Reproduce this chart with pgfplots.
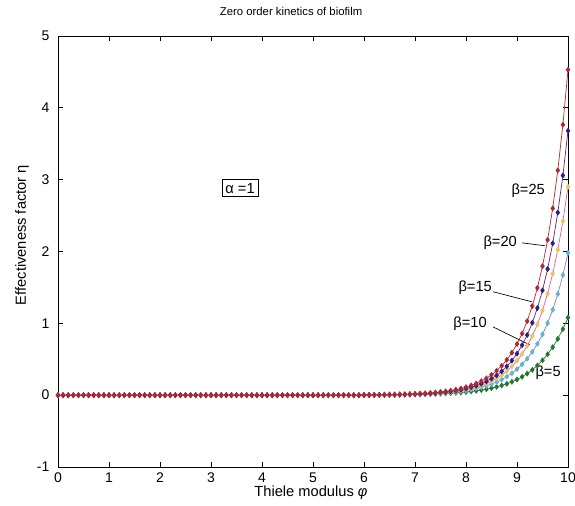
\documentclass[border=0pt]{standalone}
\usepackage{pgfplots}
\pgfplotsset{compat=1.18}
\usepackage{pgfplotstable}
\usepackage{fontspec}
\setmainfont{Liberation Sans}

\definecolor{cAline}{rgb}{0.72,0.18,0.18}
\definecolor{cAmark}{rgb}{0.70,0.15,0.20}
\definecolor{cBline}{rgb}{0.45,0.15,0.45}
\definecolor{cBmark}{rgb}{0.15,0.12,0.55}
\definecolor{cCline}{rgb}{0.85,0.40,0.65}
\definecolor{cCmark}{rgb}{0.95,0.75,0.35}
\definecolor{cDline}{rgb}{0.55,0.50,0.80}
\definecolor{cDmark}{rgb}{0.35,0.72,0.82}
\definecolor{cEline}{rgb}{0.10,0.50,0.20}
\definecolor{cEmark}{rgb}{0.15,0.45,0.20}

\pgfplotstableread{
x c1 c2 c3 c4 c5
0.0 0 0 0 0 0
0.1 0 0 0 0 0
0.2 0 0 0 0 0
0.3 0 0 0 0 0
0.4 0 0 0 0 0
0.5 0 0 0 0 0
0.6 0 0 0 0 0
0.7 0 0 0 0 0
0.8 0 0 0 0 0
0.9 0 0 0 0 0
1.0 0 0 0 0 0
1.1 0 0 0 0 0
1.2 0 0 0 0 0
1.3 0 0 0 0 0
1.4 0 0 0 0 0
1.5 0 0 0 0 0
1.6 0 0 0 0 0
1.7 0 0 0 0 0
1.8 0 0 0 0 0
1.9 0 0 0 0 0
2.0 0 0 0 0 0
2.1 0 0 0 0 0
2.2 0 0 0 0 0
2.3 0 0 0 0 0
2.4 0 0 0 0 0
2.5 0 0 0 0 0
2.6 0 0 0 0 0
2.7 0 0 0 0 0
2.8 0 0 0 0 0
2.9 0 0 0 0 0
3.0 0 0 0 0 0
3.1 0 0 0 0 0
3.2 0 0 0 0 0
3.3 0 0 0 0 0
3.4 0 0 0 0 0
3.5 0 0 0 0 0
3.6 0 0 0 0 0
3.7 0 0 0 0 0
3.8 0 0 0 0 0
3.9 0 0 0 0 0
4.0 0 0 0 0 0
4.1 0 0 0 0 0
4.2 0 0 0 0 0
4.3 0 0 0 0 0
4.4 0 0 0 0 0
4.5 0 0 0 0 0
4.6 0 0 0 0 0
4.7 0 0 0 0 0
4.8 0 0 0 0 0
4.9 0 0 0 0 0
5.0 0 0 0 0 0
5.1 0 0 0 0 0
5.2 0 0 0 0 0
5.3 0 0 0 0 0
5.4 0 0 0 0 0
5.5 0 0 0 0 0
5.6 0 0 0 0 0
5.7 0 0 0 0 0
5.8 0 0 0 0 0
5.9 0 0 0 0 0
6.0 0.003 0.002 0.002 0.002 0.002
6.1 0.003 0.003 0.003 0.003 0.002
6.2 0.004 0.003 0.003 0.003 0.002
6.3 0.005 0.004 0.004 0.004 0.003
6.4 0.006 0.005 0.004 0.004 0.003
6.5 0.007 0.006 0.005 0.005 0.004
6.6 0.008 0.007 0.006 0.006 0.004
6.7 0.010 0.008 0.008 0.007 0.005
6.8 0.012 0.010 0.009 0.009 0.006
6.9 0.015 0.012 0.011 0.010 0.007
7.0 0.018 0.014 0.013 0.012 0.009
7.1 0.021 0.017 0.016 0.014 0.010
7.2 0.025 0.021 0.019 0.017 0.012
7.3 0.031 0.025 0.023 0.020 0.014
7.4 0.037 0.030 0.027 0.024 0.017
7.5 0.044 0.036 0.032 0.028 0.020
7.6 0.053 0.043 0.039 0.033 0.023
7.7 0.064 0.052 0.046 0.040 0.027
7.8 0.077 0.063 0.055 0.047 0.032
7.9 0.093 0.076 0.066 0.056 0.037
8.0 0.112 0.091 0.079 0.066 0.044
8.1 0.135 0.110 0.095 0.078 0.052
8.2 0.162 0.132 0.114 0.093 0.061
8.3 0.195 0.159 0.136 0.110 0.071
8.4 0.235 0.191 0.163 0.130 0.083
8.5 0.283 0.230 0.195 0.155 0.098
8.6 0.340 0.276 0.233 0.183 0.115
8.7 0.409 0.332 0.279 0.217 0.135
8.8 0.492 0.400 0.334 0.257 0.158
8.9 0.592 0.481 0.400 0.305 0.186
9.0 0.712 0.578 0.479 0.362 0.218
9.1 0.857 0.696 0.574 0.429 0.256
9.2 1.031 0.838 0.687 0.508 0.300
9.3 1.241 1.008 0.823 0.602 0.352
9.4 1.493 1.213 0.985 0.714 0.414
9.5 1.796 1.459 1.179 0.846 0.485
9.6 2.161 1.756 1.412 1.003 0.569
9.7 2.601 2.113 1.690 1.189 0.668
9.8 3.129 2.542 2.023 1.409 0.784
9.9 3.765 3.058 2.422 1.671 0.920
10.0 4.530 3.680 2.900 1.980 1.080
}\data

\begin{document}
\begin{tikzpicture}
\path[use as bounding box] (-43.5pt,-29.25pt) rectangle (387.75pt,350.25pt);
\begin{axis}[
  at={(0pt,0pt)}, anchor=south west,
  scale only axis, width=382.5pt, height=323.25pt,
  xmin=0, xmax=10, ymin=-1, ymax=5,
  xtick={0,1,...,10}, ytick={-1,0,...,5},
  tick align=inside, tick pos=both,
  major tick length=4pt,
  tick style={black, line width=0.5pt},
  axis line style={line width=0.6pt},
  ticklabel style={font=\fontsize{10.5}{12}\selectfont},
  /pgf/number format/assume math mode=true,
  xticklabel style={yshift=-1pt},
  yticklabel style={xshift=-3pt},
  clip=false,
]
\addplot[color=cEline, line width=0.55pt, mark=diamond*, mark size=1.8pt, mark options={fill=cEmark, draw=cEmark, solid}] table[x=x, y=c5] {\data};
\addplot[color=cDline, line width=0.55pt, mark=diamond*, mark size=1.8pt, mark options={fill=cDmark, draw=cDmark, solid}] table[x=x, y=c4] {\data};
\addplot[color=cCline, line width=0.55pt, mark=diamond*, mark size=1.8pt, mark options={fill=cCmark, draw=cCmark, solid}] table[x=x, y=c3] {\data};
\addplot[color=cBline, line width=0.55pt, mark=diamond*, mark size=1.8pt, mark options={fill=cBmark, draw=cBmark, solid}] table[x=x, y=c2] {\data};
\addplot[color=cAline, line width=0.55pt, mark=diamond*, mark size=1.8pt, mark options={fill=cAmark, draw=cAmark, solid}] table[x=x, y=c1] {\data};

% annotations
\node[font=\fontsize{11}{13}\selectfont] at (axis cs:9.22,2.85) {β=25};
\node[font=\fontsize{11}{13}\selectfont] at (axis cs:8.67,2.12) {β=20};
\draw[black, line width=0.5pt] (axis cs:9.10,2.12) -- (axis cs:9.55,2.08);
\node[font=\fontsize{11}{13}\selectfont] at (axis cs:8.18,1.49) {β=15};
\draw[black, line width=0.5pt] (axis cs:8.53,1.44) -- (axis cs:9.29,1.30);
\node[font=\fontsize{11}{13}\selectfont] at (axis cs:8.08,1.00) {β=10};
\draw[black, line width=0.5pt] (axis cs:8.53,0.95) -- (axis cs:9.25,0.70);
\node[font=\fontsize{11}{13}\selectfont] at (axis cs:9.61,0.31) {β=5};
\node[draw=black, line width=0.6pt, fill=white, inner sep=2.5pt, font=\fontsize{11}{13}\selectfont] at (axis cs:3.57,2.88) {α =1};

% title and labels
\node[font=\fontsize{8.5}{10}\selectfont] at (rel axis cs:0.457,1.056) {Zero order kinetics of biofilm};
\node[font=\fontsize{11}{13}\selectfont] at (rel axis cs:0.496,-0.060) {Thiele modulus \textit{φ}};
\node[rotate=90, font=\fontsize{11}{13}\selectfont] at (rel axis cs:-0.0706,0.538) {Effectiveness factor η};
\end{axis}
\end{tikzpicture}
\end{document}
